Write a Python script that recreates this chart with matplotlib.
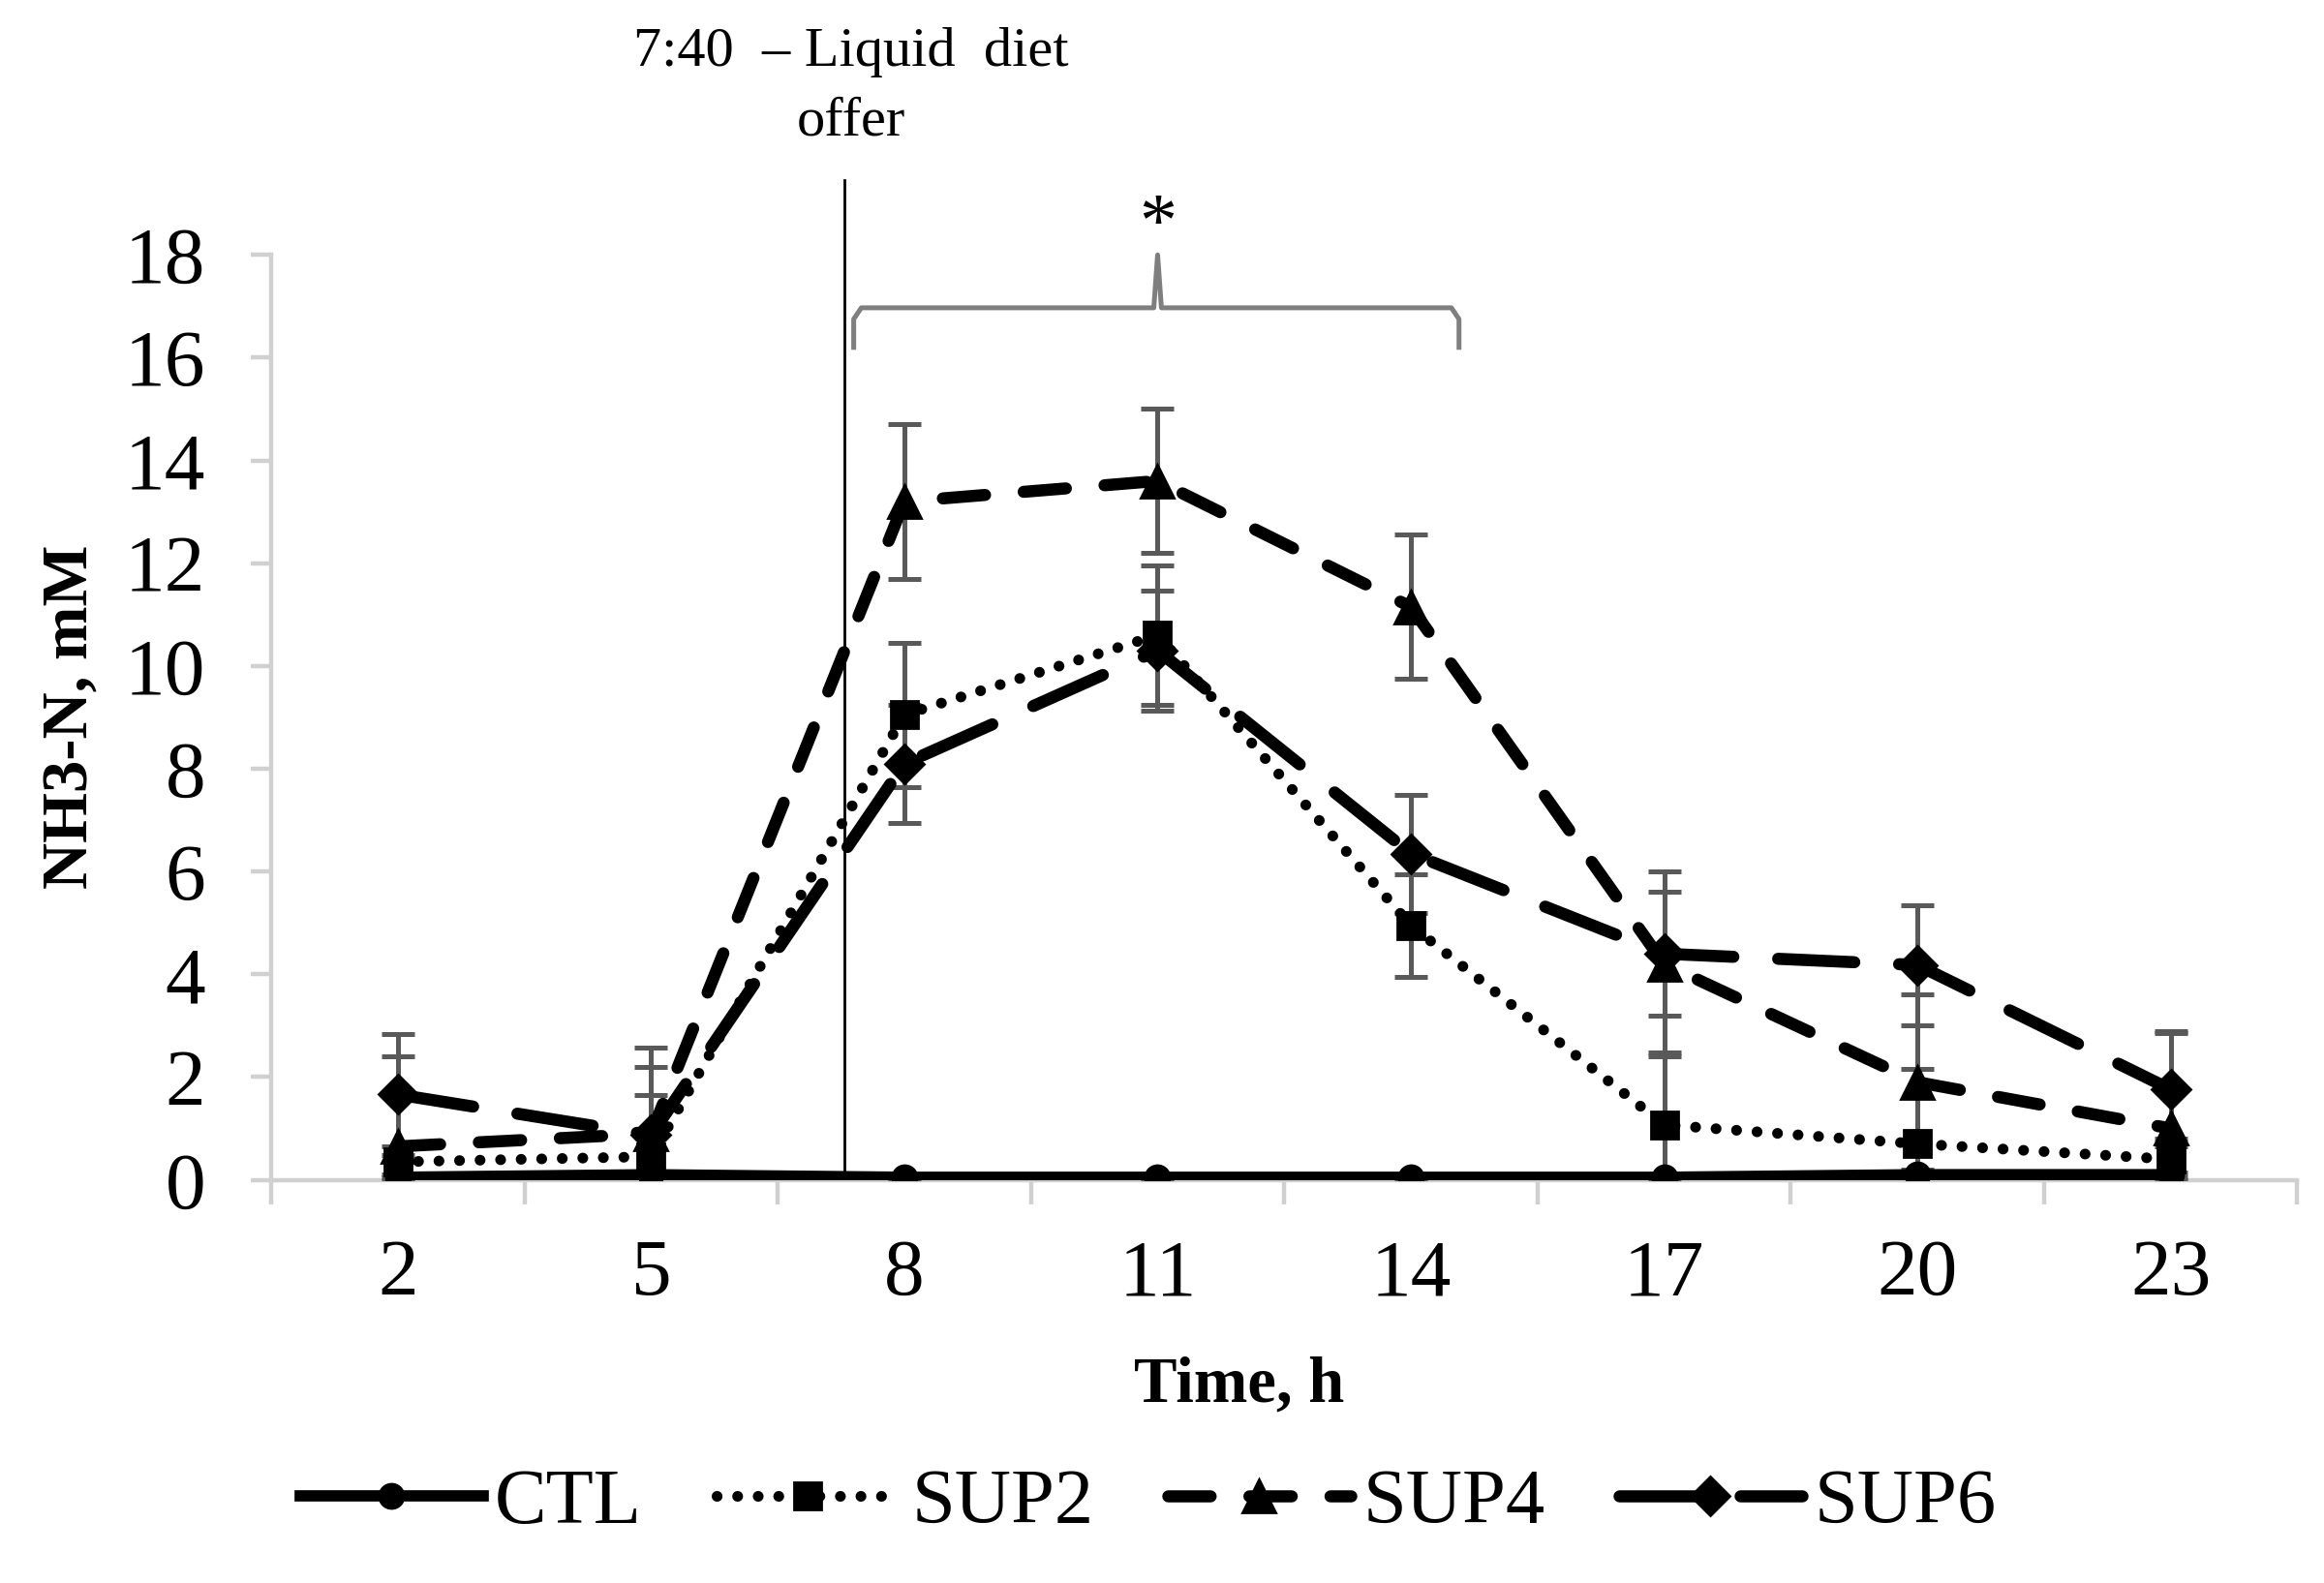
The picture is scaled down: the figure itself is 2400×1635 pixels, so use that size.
import matplotlib
matplotlib.use("Agg")
import matplotlib.pyplot as plt
import numpy as np

plt.rcParams['font.family'] = ['Liberation Serif', 'DejaVu Serif']

# data
hours = ['2', '5', '8', '11', '14', '17', '20', '23']
ctl = [0.05, 0.1, 0.05, 0.05, 0.05, 0.05, 0.1, 0.1]
ctl_err = [0.05, 0.05, 0.05, 0.05, 0.05, 0.05, 0.05, 0.05]
sup2 = [0.35, 0.45, 9.05, 10.6, 4.95, 1.07, 0.7, 0.4]
sup2_err = [0.3, 1.2, 1.4, 1.35, 1.0, 1.4, 1.45, 0.4]
sup4 = [0.65, 0.9, 13.2, 13.6, 11.15, 4.2, 1.9, 1.0]
sup4_err = [1.75, 1.3, 1.5, 1.4, 1.4, 1.8, 1.7, 1.9]
sup6 = [1.66, 0.87, 8.1, 10.3, 6.35, 4.4, 4.18, 1.76]
sup6_err = [1.18, 1.7, 1.15, 1.17, 1.15, 1.2, 1.17, 1.1]

x = np.arange(len(hours))
feed_x = 1.763  # 7:40, between 5 h and 8 h

fig = plt.figure(figsize=(12, 8.175), dpi=200)
ax = fig.add_axes([0.1167, 0.2547, 0.8718, 0.5843])

err_kw = dict(ecolor='#595959', elinewidth=1.8, capsize=6, capthick=1.8)

ax.errorbar(x, ctl, yerr=ctl_err, color='black', lw=4.2, marker='o', ms=9,
            label='CTL', zorder=3, **err_kw)
l2 = ax.errorbar(x, sup2, yerr=sup2_err, color='black', lw=4.0, ls=(0, (0.01, 1.9)),
                 marker='s', ms=10, label='SUP2', zorder=3, **err_kw)
l4 = ax.errorbar(x, sup4, yerr=sup4_err, color='black', lw=4.5, ls=(0, (3.5, 3.2)),
                 marker='^', ms=12, label='SUP4', zorder=3, **err_kw)
l6 = ax.errorbar(x, sup6, yerr=sup6_err, color='black', lw=4.5, ls=(0, (6.3, 3.7)),
                 marker='D', ms=10, label='SUP6', zorder=3, **err_kw)
for ln in (l2, l4, l6):
    ln[0].set_dash_capstyle('round')

# feeding time line
ax.plot([feed_x, feed_x], [0, 19.45], color='black', lw=1.0, clip_on=False, zorder=2)
fig.text(0.366, 0.945, '7:40  – Liquid  diet\noffer', ha='center', va='center',
         fontsize=21, linespacing=1.5)

# brace with asterisk
bx = [1.80, 1.80, 1.83, 2.985, 3.0, 3.015, 4.16, 4.19, 4.19]
by = [16.2, 16.75, 16.97, 16.97, 18.0, 16.97, 16.97, 16.75, 16.2]
ax.plot(bx, by, color='#7f7f7f', lw=1.8, clip_on=False, zorder=2)
ax.text(3.0, 18.55, '*', ha='center', va='center', fontsize=28)

ax.set_xlim(-0.5, 7.5)
ax.set_ylim(0, 18)
ax.set_yticks(np.arange(0, 19, 2))
ax.set_xticks(x)
ax.set_xticklabels(hours)
ax.set_xticks(np.arange(-0.5, 8, 1), minor=True)

for s in ['top', 'right']:
    ax.spines[s].set_visible(False)
for s in ['left', 'bottom']:
    ax.spines[s].set_color('#d0d0d0')
    ax.spines[s].set_linewidth(1.6)

ax.tick_params(axis='y', length=7.5, width=1.6, color='#d0d0d0', pad=17, labelsize=30)
ax.tick_params(axis='x', which='major', length=0, pad=22, labelsize=30)
ax.tick_params(axis='x', which='minor', length=9, width=1.6, color='#d0d0d0')

fig.text(0.031, 0.547, 'NH3-N, mM', rotation=90, ha='center', va='center',
         fontsize=24, fontweight='bold')
fig.text(0.533, 0.1245, 'Time, h', ha='center', va='center',
         fontsize=24, fontweight='bold')

handles, labels = ax.get_legend_handles_labels()
handles = [h[0] for h in handles]
fig.legend(handles, labels, loc='center', bbox_to_anchor=(0.494, 0.05), ncol=4,
           frameon=False, fontsize=29, handlelength=2.35, handletextpad=0.15,
           columnspacing=0.95)

fig.savefig('out.png', dpi=200, facecolor='white')
